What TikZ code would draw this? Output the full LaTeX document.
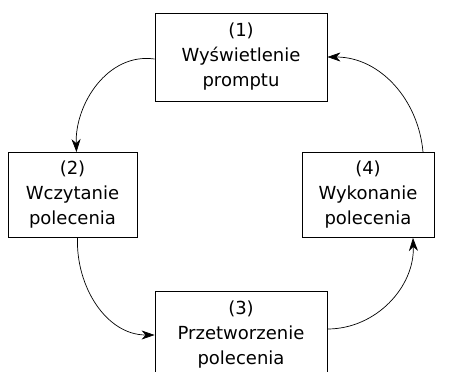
\documentclass[tikz,border=0pt]{standalone}
\usepackage{fontspec}
\setmainfont{DejaVu Sans}
\usetikzlibrary{arrows.meta}
\tikzset{
  stage/.style={draw, line width=0.8pt, align=center, inner sep=0pt,
    font=\fontsize{18}{25}\selectfont},
  flow/.style={-{Stealth[length=13pt,width=9pt,inset=4pt]}, line width=0.7pt}
}
\begin{document}
\begin{tikzpicture}[x=1pt,y=-1pt]
  \useasboundingbox (0,0) rectangle (475,372);
  \clip (0,0) rectangle (475,372);
  % stages of the loop
  \node[stage, minimum width=172pt, minimum height=88pt] (prompt) at (241,57) {(1)\\Wyświetlenie\\promptu};
  \node[stage, minimum width=129pt, minimum height=85pt] (read) at (72.5,195) {(2)\\Wczytanie\\polecenia};
  \node[stage, minimum width=172pt, minimum height=88pt] (parse) at (241,335) {(3)\\Przetworzenie\\polecenia};
  \node[stage, minimum width=132pt, minimum height=85pt] (run) at (368,195) {(4)\\Wykonanie\\polecenia};
  % transitions
  \draw[flow] ([yshift=-2pt]prompt.west) to[out=172, in=92] ([xshift=4pt]read.north);
  \draw[flow] ([xshift=5pt]read.south) to[out=-92, in=180] (parse.west);
  \draw[flow] ([yshift=6pt]parse.east) to[out=0, in=-88] ([xshift=45pt]run.south);
  \draw[flow] ([xshift=55pt]run.north) to[out=95, in=0] (prompt.east);
\end{tikzpicture}
\end{document}
